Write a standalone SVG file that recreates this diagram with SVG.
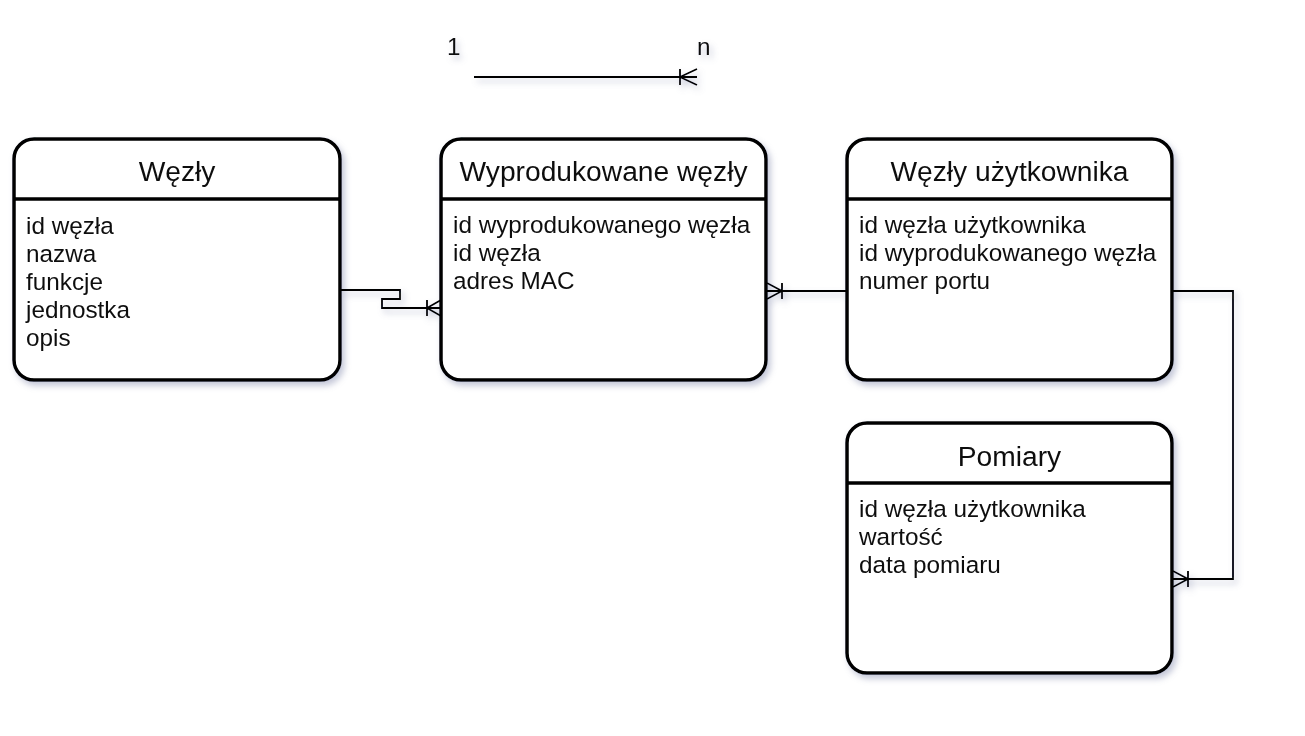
<svg xmlns="http://www.w3.org/2000/svg" width="1305" height="736" viewBox="0 0 1305 736">
<defs>
<filter id="sh" x="-10%" y="-10%" width="130%" height="130%">
<feDropShadow dx="3" dy="4" stdDeviation="3" flood-color="#7a82a8" flood-opacity="0.45"/>
</filter>
</defs>
<style>
.box{fill:#fff;stroke:#000;stroke-width:3.5}
.div{stroke:#000;stroke-width:3.5}
.hd{font-family:"Liberation Sans",Arial,sans-serif;font-size:28.2px;fill:#111;text-anchor:middle}
.bd{font-family:"Liberation Sans",Arial,sans-serif;font-size:24.3px;fill:#111}
.ln{fill:none;stroke:#000;stroke-width:1.8}
</style>
<rect width="1305" height="736" fill="#fff"/>
<g filter="url(#sh)">
<g id="legend">
<text class="bd" x="447" y="55">1</text>
<text class="bd" x="697" y="55">n</text>
<path class="ln" d="M474 77 H697 M680 69 V85 M680 77 L697 69 M680 77 L697 85"/>
</g>
<g id="wezly">
<rect class="box" x="14" y="139" width="326" height="241" rx="20"/>
<line class="div" x1="14" y1="199" x2="340" y2="199"/>
<text class="hd" x="177" y="181">Węzły</text>
<text class="bd" x="26" y="234">id węzła</text>
<text class="bd" x="26" y="262">nazwa</text>
<text class="bd" x="26" y="290">funkcje</text>
<text class="bd" x="26" y="318">jednostka</text>
<text class="bd" x="26" y="346">opis</text>
</g>
<g id="wyprodukowane">
<rect class="box" x="441" y="139" width="325" height="241" rx="20"/>
<line class="div" x1="441" y1="199" x2="766" y2="199"/>
<text class="hd" x="603.5" y="181">Wyprodukowane węzły</text>
<text class="bd" x="453" y="233">id wyprodukowanego węzła</text>
<text class="bd" x="453" y="261">id węzła</text>
<text class="bd" x="453" y="289">adres MAC</text>
</g>
<g id="uzytkownika">
<rect class="box" x="847" y="139" width="325" height="241" rx="20"/>
<line class="div" x1="847" y1="199" x2="1172" y2="199"/>
<text class="hd" x="1009.5" y="181">Węzły użytkownika</text>
<text class="bd" x="859" y="233">id węzła użytkownika</text>
<text class="bd" x="859" y="261">id wyprodukowanego węzła</text>
<text class="bd" x="859" y="289">numer portu</text>
</g>
<g id="pomiary">
<rect class="box" x="847" y="423" width="325" height="250" rx="20"/>
<line class="div" x1="847" y1="483" x2="1172" y2="483"/>
<text class="hd" x="1009.5" y="466">Pomiary</text>
<text class="bd" x="859" y="517">id węzła użytkownika</text>
<text class="bd" x="859" y="545">wartość</text>
<text class="bd" x="859" y="573">data pomiaru</text>
</g>
<g id="connectors">
<path class="ln" d="M341 290 H400 V299 H382 V308 H441 M427 300 V316 M427 308 L441 300 M427 308 L441 316"/>
<path class="ln" d="M847 291 H767 M782 283 V299 M782 291 L767 283 M782 291 L767 299"/>
<path class="ln" d="M1173 291 H1233 V579 H1173 M1188 571 V587 M1188 579 L1173 571 M1188 579 L1173 587"/>
</g>
</g>
</svg>
